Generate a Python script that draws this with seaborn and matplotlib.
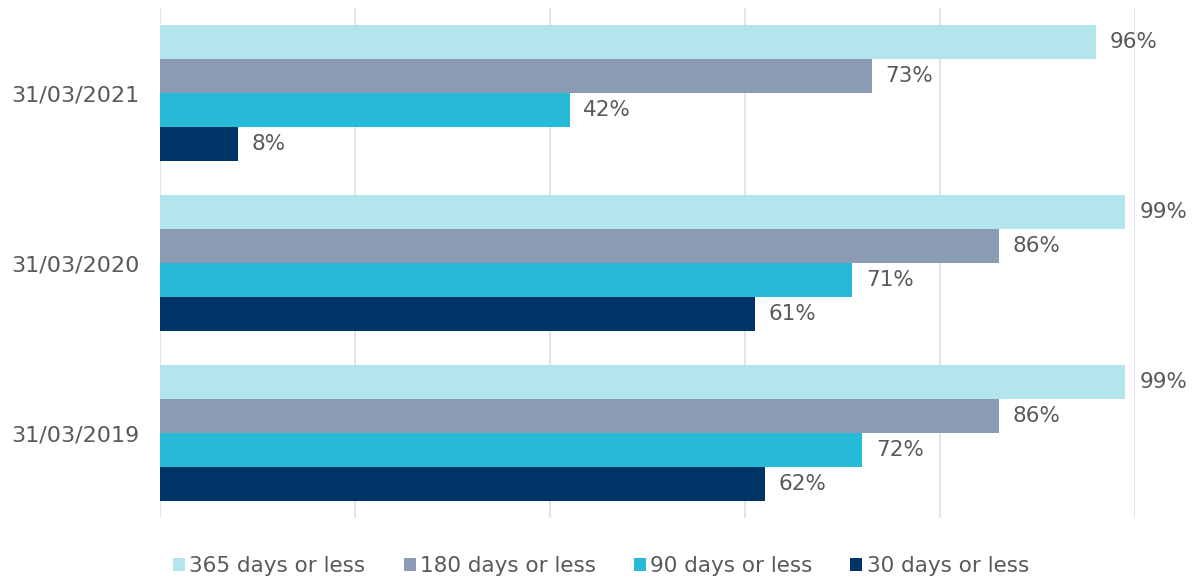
import matplotlib
matplotlib.use("Agg")
import matplotlib.pyplot as plt
import seaborn as sns
import pandas as pd
from matplotlib.patches import Patch

dates = ["31/03/2021", "31/03/2020", "31/03/2019"]
series = ["365 days or less", "180 days or less", "90 days or less", "30 days or less"]
v365 = [96, 99, 99]
v180 = [73, 86, 86]
v90 = [42, 71, 72]
v30 = [8, 61, 62]
colors = ["#B3E6EC", "#8B9BB3", "#26BAD6", "#003466"]

rows = []
for s, vals in zip(series, [v365, v180, v90, v30]):
    for d, v in zip(dates, vals):
        rows.append({"date": d, "series": s, "value": v})
df = pd.DataFrame(rows)

sns.set_theme(style="white")
plt.rcParams["font.family"] = ["DejaVu Sans"]

fig = plt.figure(figsize=(11.97, 5.83), dpi=100)
ax = fig.add_axes([160/1197, 1-518/583, (1135-160)/1197, 510/583])

sns.barplot(data=df, y="date", x="value", hue="series", order=dates,
            hue_order=series, palette=colors, orient="h", width=0.8,
            saturation=1, ax=ax, legend=False, linewidth=0, errorbar=None)

for cont in ax.containers:
    ax.bar_label(cont, labels=[f"{int(round(b.get_width()))}%" for b in cont],
                 padding=10, color="#595959", fontsize=15.5)

ax.set_xlim(0, 100)
ax.set_ylim(2.5, -0.5)
ax.set_xticks([0, 20, 40, 60, 80, 100])
ax.set_xticklabels([])
ax.grid(axis="x", color="#DDE2EA", linewidth=1.3)
ax.set_axisbelow(True)
for sp in ax.spines.values():
    sp.set_visible(False)
ax.tick_params(axis="y", length=0, pad=15, labelsize=16, labelcolor="#595959")
ax.tick_params(axis="x", length=0)
ax.set_xlabel("")
ax.set_ylabel("")

handles = [Patch(facecolor=c, edgecolor="none") for c in colors]
fig.legend(handles, series, loc="center", bbox_to_anchor=(601/1197, 1-566/583),
           ncol=4, frameon=False, fontsize=15.5, labelcolor="#595959",
           handlelength=0.56, handleheight=0.56, handletextpad=0.19,
           columnspacing=1.77)

fig.savefig("out.png", dpi=100)
